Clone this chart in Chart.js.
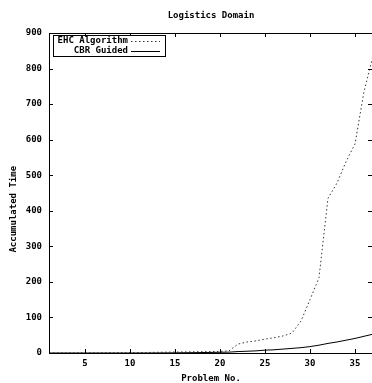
<!DOCTYPE html>
<html>
<head>
<meta charset="utf-8">
<script src="https://cdn.jsdelivr.net/npm/chart.js@4/dist/chart.umd.min.js"></script>
<style>
html,body{margin:0;padding:0;background:#fff;overflow:hidden;}
#wrap{width:384px;height:383px;}
</style>
</head>
<body>
<div id="wrap"><canvas id="c" width="384" height="383"></canvas></div>
<script>
const problems = [1,2,3,4,5,6,7,8,9,10,11,12,13,14,15,16,17,18,19,20,21,22,23,24,25,26,27,28,29,30,31,32,33,34,35,36,37];
const ehcAlgorithm = [0.2,0.3,0.3,0.4,0.5,0.6,0.7,0.8,0.9,1.0,1.2,1.5,2,2.3,2.6,3,3.3,3.6,4,4.5,6,25,31,34,39,43,48,56,90,150,212,435,478,538,588,735,835];
const cbrGuided = [0,0,0,0,0,0,0,0,0,0,0,0,0.2,0.3,0.5,0.8,1,1.3,1.6,2,2.5,4,5,6,8,9,11,13,15,18,22,27,31,36,41,47,53];
const xTicks = [5,10,15,20,25,30,35];
const yTicks = [0,100,200,300,400,500,600,700,800,900];
const seriesNames = ['EHC Algorithm','CBR Guided'];

const FONT = {family:'"DejaVu Sans Mono", monospace', size:9, weight:'bold', lineHeight:1.2};

const framePlugin = {
  id:'frame',
  afterDraw(chart){
    const ctx = chart.ctx, a = chart.chartArea;
    const xs = chart.scales.x, ys = chart.scales.y;
    ctx.save();
    ctx.strokeStyle = '#000';
    ctx.lineWidth = 1;
    ctx.strokeRect(Math.round(a.left)+0.5, Math.round(a.top)+0.5, Math.round(a.right-a.left), Math.round(a.bottom-a.top));
    ctx.beginPath();
    xTicks.forEach(v=>{
      const px = Math.round(xs.getPixelForValue(v))+0.5;
      ctx.moveTo(px, a.bottom); ctx.lineTo(px, a.bottom-4);
      ctx.moveTo(px, a.top); ctx.lineTo(px, a.top+4);
    });
    yTicks.forEach(v=>{
      const py = Math.round(ys.getPixelForValue(v))+0.5;
      ctx.moveTo(a.left, py); ctx.lineTo(a.left+4, py);
      ctx.moveTo(a.right, py); ctx.lineTo(a.right-5, py);
    });
    ctx.stroke();
    // legend
    const bx = 53.5, by = 35.5, bw = 112, bh = 21;
    ctx.fillStyle = '#fff';
    ctx.fillRect(bx, by, bw, bh);
    ctx.strokeRect(bx, by, bw, bh);
    ctx.font = 'bold 9px "DejaVu Sans Mono", monospace';
    ctx.fillStyle = '#000';
    ctx.textAlign = 'right';
    ctx.textBaseline = 'middle';
    chart.data.datasets.forEach((ds,i)=>{
      const y = 40.5 + i*10;
      ctx.fillText(ds.label, 128, y);
      ctx.save();
      ctx.strokeStyle = ds.borderColor;
      ctx.lineWidth = 1;
      ctx.setLineDash(ds.borderDash || []);
      ctx.beginPath();
      ctx.moveTo(131, Math.round(y)+0.5);
      ctx.lineTo(160, Math.round(y)+0.5);
      ctx.stroke();
      ctx.restore();
    });
    ctx.restore();
  }
};

new Chart(document.getElementById('c'), {
  type:'line',
  data:{
    datasets:[
      {label:seriesNames[0], data:problems.map((p,i)=>({x:p,y:ehcAlgorithm[i]})), borderColor:'#333', borderWidth:1, borderDash:[1.5,2.5], pointRadius:0, tension:0, fill:false},
      {label:seriesNames[1], data:problems.map((p,i)=>({x:p,y:cbrGuided[i]})), borderColor:'#000', borderWidth:1, pointRadius:0, tension:0, fill:false}
    ]
  },
  options:{
    responsive:false,
    animation:false,
    layout:{padding:{left:0,right:11,top:0,bottom:0}},
    plugins:{
      legend:{display:false},
      tooltip:{enabled:false},
      title:{display:true, text:'Logistics Domain', fullSize:false, color:'#000', font:FONT, padding:{top:10,bottom:12.2}}
    },
    scales:{
      x:{
        type:'linear', min:1, max:37,
        afterBuildTicks:(s)=>{ s.ticks = xTicks.map(v=>({value:v})); },
        afterFit:(s)=>{ s.height = 30; },
        grid:{display:false, drawTicks:false},
        border:{display:false},
        ticks:{color:'#000', font:FONT, padding:5, maxRotation:0, autoSkip:false},
        title:{display:true, text:'Problem No.', color:'#000', font:{...FONT, lineHeight:1}, padding:{top:0,bottom:0}}
      },
      y:{
        type:'linear', min:0, max:900,
        afterBuildTicks:(s)=>{ s.ticks = yTicks.map(v=>({value:v})); },
        afterFit:(s)=>{ s.width = 49; },
        grid:{display:false, drawTicks:false},
        border:{display:false},
        ticks:{color:'#000', font:FONT, padding:7},
        title:{display:true, text:'Accumulated Time      ', color:'#000', font:FONT, padding:{top:8,bottom:0}}
      }
    }
  },
  plugins:[framePlugin]
});
</script>
</body>
</html>
